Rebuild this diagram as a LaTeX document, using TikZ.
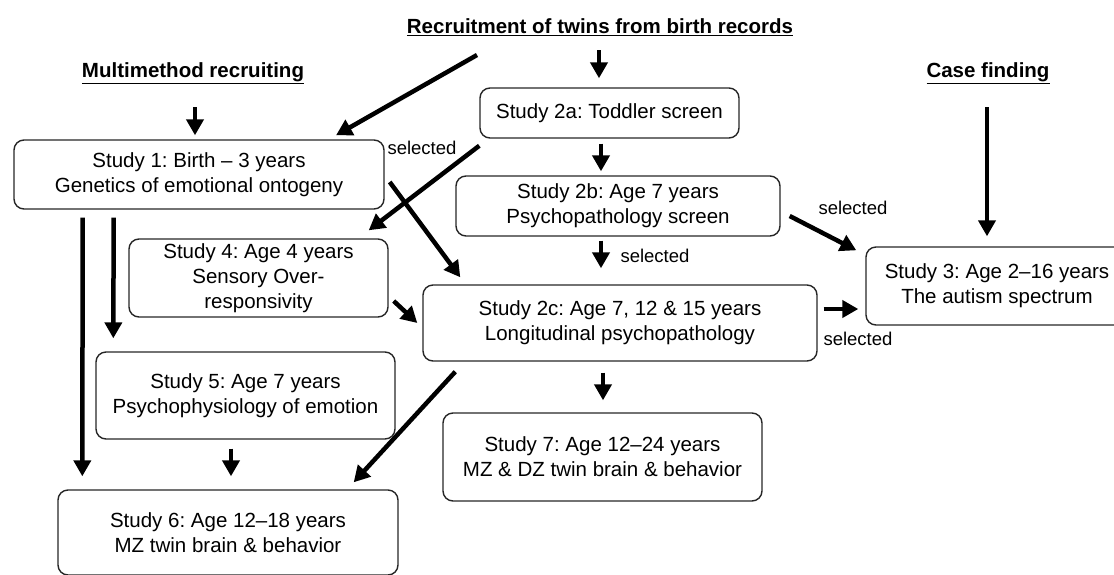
\documentclass[tikz,border=0pt]{standalone}
\usepackage{fontspec}
\setmainfont{Liberation Sans}
\usepackage{tikz}
\usetikzlibrary{arrows.meta}
\frenchspacing
\newcommand*{\heading}[1]{\underline{\textbf{#1}}}
\newcommand*{\boxfont}{\fontsize{20.5}{25}\selectfont}
\newcommand*{\selfont}{\fontsize{18.5}{22}\selectfont}

\begin{document}
\begin{tikzpicture}[x=1pt, y=-1pt]
      \clip (0,0) rectangle (1114,574);
      \tikzstyle{arr}=[line width=4.5pt, -{Triangle[length=16pt, width=17pt]}]

      {\tikzstyle{every node}=[font=\boxfont, inner sep=0pt]
        \node (mm) at (193,73) {\heading{Multimethod recruiting}};
        \node (rec) at (600,27) {\heading{Recruitment of twins from birth records}};
        \node (cf) at (988,73) {\heading{Case finding}};
      }

      {\tikzstyle{every node}=[draw=black!85, line width=1.4pt, rounded corners=10pt,
        align=center, font=\boxfont, inner sep=0pt]
        \node (s1) at (199,174.5) [minimum width=370pt, minimum height=69pt]
          {Study 1: Birth -- 3 years\\Genetics of emotional ontogeny};
        \node (s2a) at (609.5,113) [minimum width=259pt, minimum height=50pt]
          {Study 2a: Toddler screen};
        \node (s2b) at (618,206) [minimum width=324pt, minimum height=60pt]
          {Study 2b: Age 7 years\\Psychopathology screen};
        \node (s4) at (258.5,278) [minimum width=259pt, minimum height=78pt]
          {Study 4: Age 4 years\\Sensory Over-\\responsivity};
        \node (s2c) at (620,323) [minimum width=394pt, minimum height=76pt]
          {Study 2c: Age 7, 12 \& 15 years\\Longitudinal psychopathology};
        \node (s3) at (997,286) [minimum width=262pt, minimum height=78pt]
          {Study 3: Age 2--16 years\\The autism spectrum};
        \node (s5) at (245.5,395.5) [minimum width=299pt, minimum height=87pt]
          {Study 5: Age 7 years\\Psychophysiology of emotion};
        \node (s7) at (602.5,457) [minimum width=319pt, minimum height=88pt]
          {Study 7: Age 12--24 years\\MZ \& DZ twin brain \& behavior};
        \node (s6) at (228,532.5) [minimum width=340pt, minimum height=85pt]
          {Study 6: Age 12--18 years\\MZ twin brain \& behavior};
      }

      % labels on the selection arrows
      \foreach \x/\y [count=\k] in {422/148, 655/256, 853/208, 858/339}
      {
        \node[font=\selfont, inner sep=0pt] (sel\k) at (\x,\y) {selected};
      }

      % free ends below the headings
      \coordinate (mmA) at (195,107);
      \coordinate (recA) at (477,55);
      \coordinate (recB) at (599,50);
      \coordinate (cfA) at (987,107);

      \draw [arr] (mmA) -- ([yshift=4pt]s1.north -| mmA);
      \draw [arr] (recA) -- ([xshift=137pt, yshift=4pt]s1.north);
      \draw [arr] (recB) -- ([yshift=9pt]s2a.north -| recB);
      \draw [arr] (cfA) -- ([yshift=10pt]s3.north -| cfA);

      \draw [arr] ([xshift=-8.5pt, yshift=-5pt]s2a.south)
        -- ([xshift=-17pt, yshift=4pt]s2b.north);
      \draw [arr] ([yshift=-7pt]s2a.south west)
        -- ([xshift=-20pt, yshift=8pt]s4.north east);
      \draw [arr] ([xshift=5pt, yshift=-7.5pt]s1.east)
        -- ([xshift=38pt, yshift=7pt]s2c.north west);
      \draw [arr] ([xshift=100.4pt, yshift=-8pt]s1.south west)
        -- ([xshift=18pt, yshift=13pt]s5.north west);
      \draw [arr] ([xshift=69.4pt, yshift=-8pt]s1.south west)
        -- ([xshift=25pt, yshift=13pt]s6.north west);
      \draw [arr] ([xshift=5pt, yshift=-23pt]s4.east)
        -- ([xshift=-5pt]s2c.west);
      \draw [arr] ([xshift=-17pt, yshift=-4pt]s2b.south)
        -- ([xshift=-19pt, yshift=16pt]s2c.north);
      \draw [arr] ([xshift=9pt, yshift=-10pt]s2b.east)
        -- ([xshift=-9pt, yshift=-4pt]s3.north west);
      \draw [arr] ([xshift=6pt, yshift=14pt]s2c.east)
        -- ([xshift=-7pt, yshift=-23pt]s3.west);
      \draw [arr] ([xshift=33pt, yshift=-10pt]s2c.south west)
        -- ([xshift=-45pt, yshift=7pt]s6.north east);
      \draw [arr] ([xshift=-17pt, yshift=-11pt]s2c.south)
        -- ([xshift=0.5pt, yshift=12pt]s7.north);
      \draw [arr] ([xshift=-14.5pt, yshift=-9pt]s5.south)
        -- ([xshift=3pt, yshift=13pt]s6.north);
    \end{tikzpicture}
\end{document}
